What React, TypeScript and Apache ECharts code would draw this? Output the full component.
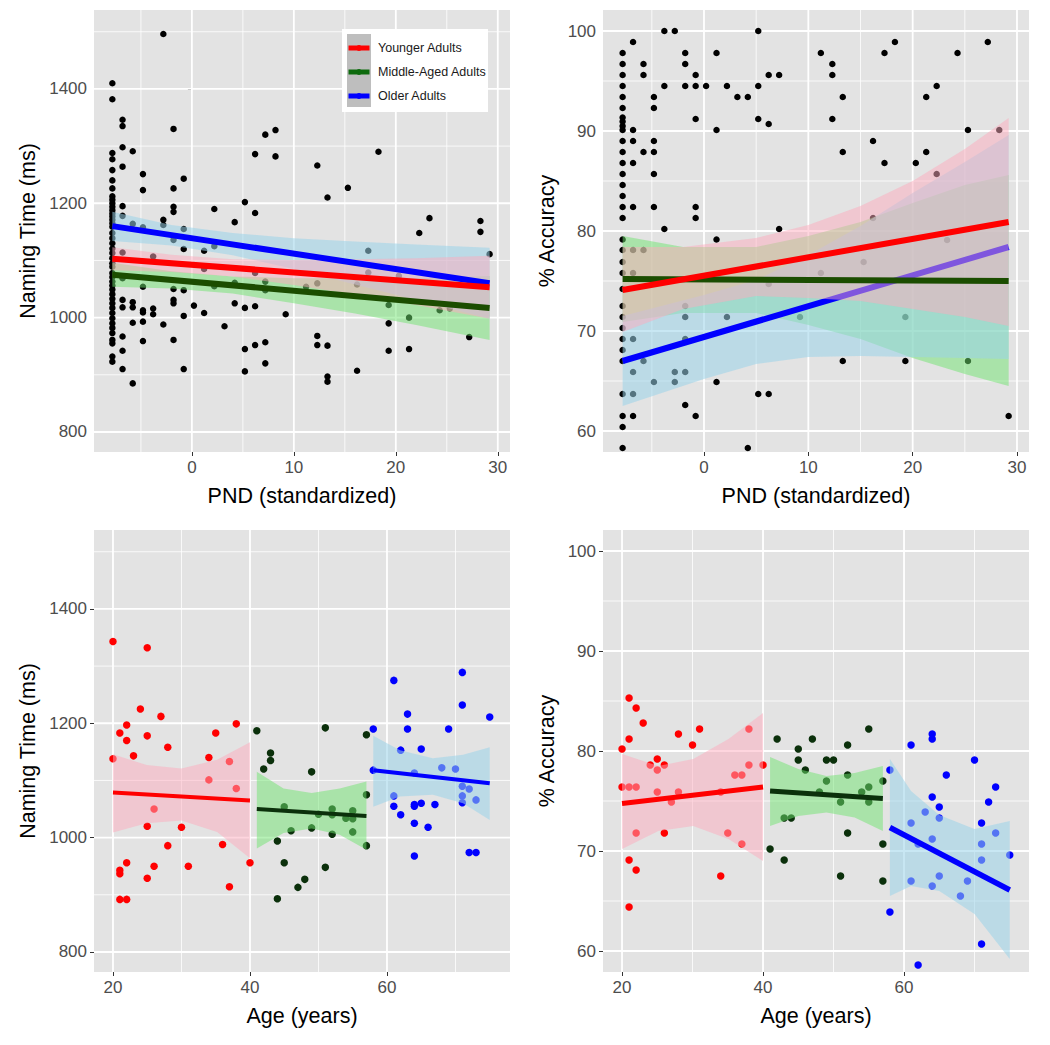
import React, { useEffect, useRef } from "react";
import * as echarts from "echarts";

const FONT = "'Liberation Sans', Arial, Helvetica, sans-serif";

// ---- tick values ----
const pndTicks = [0, 10, 20, 30];
const pndMinor = [-5, 5, 15, 25];
const ageTicks = [20, 40, 60];
const ageMinor = [30, 50, 70];
const namingTicks = [800, 1000, 1200, 1400];
const namingMinor = [900, 1100, 1300, 1500];
const accTicks = [60, 70, 80, 90, 100];
const accMinor = [65, 75, 85, 95];

const groupNames = ["Younger Adults", "Middle-Aged Adults", "Older Adults"];

// ---- top-left: naming time by PND (each entry: PND value, naming times) ----
const namingByPnd: [number, number[]][] = [
  [-7.8, [1410, 1382, 1288, 1277, 1258, 1240, 1226, 1212, 1206, 1200, 1194, 1188, 1182, 1177, 1171, 1165, 1159, 1148, 1139, 1130, 1121, 1113, 1104, 1095, 1089, 1078, 1071, 1063, 1056, 1049, 1041, 1033, 1025, 1017, 1008, 999, 990, 982, 973, 961, 955, 932, 923]],
  [-6.8, [1346, 1335, 1298, 1264, 1195, 1178, 1114, 1069, 1031, 1018, 967, 942, 910]],
  [-5.8, [1291, 1164, 1027, 1018, 991, 885]],
  [-4.8, [1251, 1223, 1158, 1054, 1013, 1009, 993, 959]],
  [-3.8, [1107, 1016, 1006]],
  [-2.8, [1496, 1171, 1162, 988]],
  [-1.8, [1330, 1226, 1194, 1185, 1136, 1050, 1031, 1025, 961]],
  [-0.8, [1243, 1155, 1120, 1048, 1003, 910]],
  [0.2, [1021]],
  [1.2, [1117, 1085, 1008]],
  [2.2, [1190, 1125, 1055]],
  [3.2, [985]],
  [4.2, [1167, 1061, 1025]],
  [5.2, [1202, 1017, 945, 906]],
  [6.2, [1286, 1183, 1078, 1020, 952]],
  [7.2, [1320, 1063, 1048, 957, 920]],
  [8.2, [1328, 1282]],
  [9.2, [1006]],
  [11.2, [1054]],
  [12.3, [1266, 1060, 968, 952]],
  [13.3, [1210, 951, 897, 888]],
  [15.3, [1227]],
  [16.2, [1058, 907]],
  [17.3, [1117, 1079]],
  [18.3, [1290]],
  [19.3, [1022, 990, 942]],
  [20.3, [1073]],
  [21.3, [1000, 945]],
  [22.3, [1148]],
  [23.3, [1174]],
  [24.3, [1013]],
  [25.3, [1016]],
  [27.2, [966]],
  [28.3, [1169, 1150]],
  [29.2, [1111]],
];

// ---- top-right: accuracy by PND ----
const accuracyByPnd: [number, number[]][] = [
  [-7.8, [97.8, 96.7, 95.6, 94.5, 93.4, 92.3, 91.35, 90.95, 90.5, 90.1, 89.0, 87.9, 86.8, 85.7, 84.6, 83.5, 82.4, 81.3, 79.15, 78.1, 76.9, 75.8, 74.2, 72.5, 71.4, 70.3, 69.2, 68.1, 67.0, 63.7, 61.5, 60.4, 58.3]],
  [-6.8, [98.9, 90.1, 89.0, 86.8, 82.4, 78.1, 75.8, 69.2, 65.9, 63.7, 61.5]],
  [-5.8, [96.7, 95.6, 87.9, 78.1, 67.0]],
  [-4.8, [93.4, 92.3, 89.0, 87.9, 85.7, 82.4, 64.9]],
  [-3.8, [100, 94.5, 80.2]],
  [-2.8, [100, 65.9, 64.9]],
  [-1.8, [97.8, 96.7, 94.5, 72.5, 71.4, 69.2, 65.9, 62.6]],
  [-0.8, [95.6, 94.5, 91.2, 82.4, 81.3, 61.5]],
  [0.2, [94.5]],
  [1.2, [97.8, 90.1, 79.15, 64.9]],
  [2.2, [94.5, 71.4]],
  [3.2, [93.4]],
  [4.2, [93.4, 58.3]],
  [5.2, [100, 94.5, 91.2, 63.7]],
  [6.2, [95.6, 90.7, 74.7, 63.7]],
  [7.2, [95.6, 80.2]],
  [9.2, [71.4]],
  [11.2, [97.8, 75.8]],
  [12.3, [96.7, 95.6, 91.2]],
  [13.3, [93.4, 87.9, 67.0]],
  [15.3, [76.9]],
  [16.2, [89.0, 81.3]],
  [17.3, [97.8, 86.8]],
  [18.3, [98.9]],
  [19.3, [71.4, 67.0]],
  [20.3, [86.8]],
  [21.3, [93.4, 87.9]],
  [22.3, [94.5, 85.7]],
  [23.3, [79.1]],
  [24.3, [97.8]],
  [25.3, [90.1, 67.0]],
  [27.2, [98.9]],
  [28.3, [90.1]],
  [29.2, [61.5]],
];

// ---- bottom-left: naming time by age ----
const youngNaming: [number, number][] = [
  [20, 1343], [25, 1332], [24, 1225], [27, 1212], [22, 1197], [21, 1183], [25, 1178], [22, 1170], [28, 1158], [20, 1138], [23, 1143],
  [35, 1183], [38, 1199], [34, 1140], [37, 1133], [34, 1101], [38, 1086], [26, 1050], [25, 1020], [30, 1018], [28, 986], [36, 988],
  [22, 956], [21, 943], [21, 937], [26, 950], [31, 950], [25, 929], [40, 956], [37, 914], [21, 892], [22, 892],
];
const middleNaming: [number, number][] = [
  [41, 1187], [51, 1192], [57, 1180], [43, 1148], [43, 1135], [42, 1120], [49, 1115], [57, 1075], [45, 1054], [52, 1050], [50, 1041],
  [54, 1034], [55, 1047], [55, 1033], [52, 1040], [46, 1012], [49, 1017], [52, 1006], [55, 1010], [44, 994], [57, 986], [45, 956],
  [51, 948], [47, 913], [48, 927], [44, 893],
];
const olderNaming: [number, number][] = [
  [61, 1275], [71, 1289], [71, 1232], [75, 1211], [58, 1190], [63, 1216], [63, 1190], [69, 1190], [62, 1153], [65, 1155], [68, 1122],
  [70, 1120], [64, 1113], [58, 1118], [71, 1090], [72, 1085], [71, 1073], [71, 1061], [73, 1066], [61, 1073], [61, 1055], [62, 1040],
  [64, 1058], [64, 1055], [65, 1060], [67, 1058], [64, 1025], [66, 1018], [64, 968], [72, 974], [73, 974],
];

// ---- bottom-right: accuracy by age ----
const youngAcc: [number, number][] = [
  [20, 80.2], [21, 85.3], [22, 84.3], [23, 82.8], [21, 81.2], [28, 81.7], [31, 82.2], [30, 80.6], [38, 82.2], [24, 78.6], [26, 78.6],
  [25, 79.2], [25, 78.1], [38, 78.6], [40, 78.6], [36, 77.6], [37, 77.6], [20, 76.4], [21, 76.4], [22, 76.4], [25, 75.9], [28, 75.9],
  [27, 74.9], [34, 75.9], [22, 71.8], [26, 71.8], [35, 71.8], [37, 70.7], [21, 69.1], [22, 68.1], [34, 67.5], [21, 64.4],
];
const middleAcc: [number, number][] = [
  [42, 81.2], [45, 80.2], [45, 79.1], [47, 81.2], [49, 79.1], [50, 79.1], [52, 80.6], [55, 82.2], [46, 78.1], [52, 77.6], [49, 77.0],
  [57, 77.0], [55, 76.4], [48, 75.9], [54, 75.9], [51, 74.9], [55, 74.9], [43, 73.3], [44, 73.3], [52, 71.8], [41, 70.2], [43, 69.1],
  [51, 67.5], [57, 70.7], [57, 67.0],
];
const olderAcc: [number, number][] = [
  [58, 78.1], [61, 80.6], [64, 81.7], [64, 81.2], [66, 77.6], [70, 79.1], [73, 76.4], [72, 74.9], [64, 75.4], [65, 74.4], [65, 73.3],
  [63, 73.9], [61, 72.8], [71, 72.8], [73, 71.8], [64, 71.2], [62, 70.7], [71, 70.7], [71, 69.1], [75, 69.6], [61, 67.0], [65, 67.5],
  [64, 66.5], [69, 67.0], [68, 65.5], [58, 63.9], [71, 60.7], [62, 58.6],
];

// ---- fitted lines (end points) ----
const tlYoungFit: [number, number][] = [[-7.8, 1103], [29.2, 1053]];
const tlMiddleFit: [number, number][] = [[-7.8, 1075], [29.2, 1017]];
const tlOlderFit: [number, number][] = [[-7.8, 1160], [29.2, 1060]];
const trYoungFit: [number, number][] = [[-7.8, 74.1], [29.2, 80.9]];
const trMiddleFit: [number, number][] = [[-7.8, 75.2], [29.2, 75.0]];
const trOlderFit: [number, number][] = [[-7.8, 67.0], [29.2, 78.4]];
const blYoungFit: [number, number][] = [[20, 1079], [40, 1065]];
const blMiddleFit: [number, number][] = [[41, 1050], [57, 1038]];
const blOlderFit: [number, number][] = [[58, 1118], [75, 1095]];
const brYoungFit: [number, number][] = [[20, 74.75], [40, 76.4]];
const brMiddleFit: [number, number][] = [[41, 76.0], [57, 75.25]];
const brOlderFit: [number, number][] = [[58, 72.35], [75, 66.1]];

// ---- confidence bands (x, lower, upper) ----
const tlBandX = [-7.8, -2, 4, 10, 16, 22, 29.2];
const tlYoungLo = [1083, 1080, 1072, 1057, 1040, 1022, 998];
const tlYoungHi = [1123, 1110, 1102, 1101, 1102, 1104, 1108];
const tlMiddleLo = [1054, 1051, 1042, 1025, 1007, 987, 961];
const tlMiddleHi = [1096, 1081, 1072, 1069, 1069, 1069, 1073];
const tlOlderLo = [1134, 1126, 1109, 1085, 1058, 1031, 998];
const tlOlderHi = [1185, 1162, 1148, 1139, 1133, 1128, 1122];

const trBandX = [-7.8, -2, 5, 10, 15, 20, 25, 29.2];
const trYoungLo = [69.9, 72.2, 73.5, 73.3, 73.0, 72.2, 71.4, 70.5];
const trYoungHi = [78.4, 78.4, 79.3, 80.6, 82.5, 85.0, 88.2, 91.3];
const trMiddleLo = [70.9, 71.8, 71.8, 70.6, 69.2, 67.3, 65.7, 64.5];
const trMiddleHi = [79.5, 78.4, 78.4, 79.5, 80.9, 82.8, 84.6, 85.6];
const trOlderX = [-7.8, 0, 5, 10, 15, 20, 25, 29.2];
const trOlderLo = [62.5, 65.2, 66.7, 67.4, 67.5, 67.4, 67.3, 67.2];
const trOlderHi = [71.5, 73.6, 75.1, 77.6, 80.5, 83.8, 86.9, 89.6];

const blYoungX = [20, 24.9, 30, 35.2, 40];
const blYoungLo = [1009, 1025, 1030, 1010, 964];
const blYoungHi = [1146, 1127, 1121, 1136, 1167];
const blMiddleX = [41, 44.9, 49, 53.1, 57];
const blMiddleLo = [981, 1008, 1016, 1005, 979];
const blMiddleHi = [1115, 1086, 1078, 1086, 1098];
const blOlderX = [58, 61.9, 66.7, 71.1, 75];
const blOlderLo = [1054, 1072, 1075, 1060, 1031];
const blOlderHi = [1178, 1153, 1139, 1145, 1158];

const brYoungX = [20, 25.15, 30.1, 35.1, 40];
const brYoungLo = [70.2, 72.0, 72.5, 71.2, 69.0];
const brYoungHi = [79.7, 78.5, 79.2, 81.2, 83.8];
const brMiddleX = [41, 45, 49, 53, 57];
const brMiddleLo = [72.5, 73.5, 73.85, 73.35, 72.0];
const brMiddleHi = [79.4, 78.2, 77.5, 77.8, 78.5];
const brOlderX = [58, 61, 65, 70, 75];
const brOlderLo = [65.5, 66.5, 66.0, 63.7, 59.2];
const brOlderHi = [79.2, 76.0, 73.6, 72.2, 73.0];

// ---- styling ----
const RED = "#FF0000";
const BLUE = "#0000FF";
const GREEN_LINE = "#1b4d00";
const GREEN_DARK = "#0b300b";
const GREEN_KEY = "#0d6a0d";
const PINK_FILL = "rgba(253,172,190,0.5)";
const GREEN_FILL = "rgba(112,228,112,0.5)";
const BLUE_FILL = "rgba(155,212,233,0.55)";

type Panel = {
  grid: { left: number; top: number; width: number; height: number };
  xMin: number; xMax: number; xTicks: number[]; xMinor: number[]; xName: string;
  yMin: number; yMax: number; yTicks: number[]; yMinor: number[]; yName: string; yGap: number;
};

const panels: Panel[] = [
  { grid: { left: 94, top: 10, width: 416, height: 442 }, xMin: -9.6, xMax: 31.2, xTicks: pndTicks, xMinor: pndMinor, xName: "PND (standardized)",
    yMin: 765, yMax: 1538, yTicks: namingTicks, yMinor: namingMinor, yName: "Naming Time (ms)", yGap: 55 },
  { grid: { left: 603, top: 10, width: 426, height: 442 }, xMin: -9.68, xMax: 31.15, xTicks: pndTicks, xMinor: pndMinor, xName: "PND (standardized)",
    yMin: 57.9, yMax: 102.1, yTicks: accTicks, yMinor: accMinor, yName: "% Accuracy", yGap: 45 },
  { grid: { left: 94, top: 530, width: 416, height: 442 }, xMin: 17.23, xMax: 77.96, xTicks: ageTicks, xMinor: ageMinor, xName: "Age (years)",
    yMin: 765, yMax: 1538, yTicks: namingTicks, yMinor: namingMinor, yName: "Naming Time (ms)", yGap: 55 },
  { grid: { left: 603, top: 530, width: 426, height: 442 }, xMin: 17.3, xMax: 77.73, xTicks: ageTicks, xMinor: ageMinor, xName: "Age (years)",
    yMin: 57.9, yMax: 102.1, yTicks: accTicks, yMinor: accMinor, yName: "% Accuracy", yGap: 45 },
];

function flatten(cols: [number, number[]][]): [number, number][] {
  const out: [number, number][] = [];
  cols.forEach(([x, ys]) => ys.forEach((y) => out.push([x, y])));
  return out;
}

// white panel grid lines, drawn through the axes' scales
function gridLineSeries(i: number, p: Panel) {
  // [orientation (0 vertical / 1 horizontal), value, width]
  const items: number[][] = [
    ...p.xMinor.map((v) => [0, v, 0.8]),
    ...p.yMinor.map((v) => [1, v, 0.8]),
    ...p.xTicks.map((v) => [0, v, 1.8]),
    ...p.yTicks.map((v) => [1, v, 1.8]),
  ];
  return {
    type: "custom", xAxisIndex: i, yAxisIndex: i, data: items, silent: true, z: 1,
    encode: { x: 1, y: 1 },
    renderItem: (params: any, api: any) => {
      const it = items[params.dataIndex];
      const vertical = it[0] === 0;
      const a = vertical ? api.coord([it[1], p.yMin]) : api.coord([p.xMin, it[1]]);
      const b = vertical ? api.coord([it[1], p.yMax]) : api.coord([p.xMax, it[1]]);
      return { type: "line", shape: { x1: a[0], y1: a[1], x2: b[0], y2: b[1] }, style: { stroke: "#FFFFFF", lineWidth: it[2] } };
    },
  };
}

function scatter(i: number, data: [number, number][], color: string, size: number) {
  return { type: "scatter", xAxisIndex: i, yAxisIndex: i, data, symbolSize: size, itemStyle: { color, opacity: 1 }, silent: true, z: 2 };
}

function band(i: number, xs: number[], lo: number[], hi: number[], fill: string, z: number) {
  return {
    type: "custom", xAxisIndex: i, yAxisIndex: i, data: [[xs[0], lo[0]]], silent: true, z,
    renderItem: (_params: any, api: any) => {
      const upper = xs.map((x, k) => api.coord([x, hi[k]]));
      const lower = xs.map((x, k) => api.coord([x, lo[k]])).reverse();
      return { type: "polygon", shape: { points: [...upper, ...lower] }, style: { fill } };
    },
  };
}

function fit(i: number, data: [number, number][], color: string, width: number, z: number) {
  return { type: "line", xAxisIndex: i, yAxisIndex: i, data, symbol: "none", lineStyle: { color, width, cap: "butt" }, silent: true, z };
}

function buildOption() {
  const grids = panels.map((p) => ({ ...p.grid, show: true, backgroundColor: "#E3E3E3", borderWidth: 0, containLabel: false }));
  const labelStyle = { color: "#4D4D4D", fontSize: 17, fontFamily: FONT, margin: 7, formatter: (v: number) => String(v) };
  const xAxes = panels.map((p, i) => ({
    type: "value", gridIndex: i, min: p.xMin, max: p.xMax,
    splitLine: { show: false }, minorSplitLine: { show: false }, axisLine: { show: false },
    axisTick: { show: true, customValues: p.xTicks, length: 4, lineStyle: { color: "#333333", width: 1 } },
    axisLabel: { ...labelStyle, customValues: p.xTicks },
    name: p.xName, nameLocation: "middle", nameGap: 33,
    nameTextStyle: { color: "#000000", fontSize: 21.5, fontFamily: FONT },
  }));
  const yAxes = panels.map((p, i) => ({
    type: "value", gridIndex: i, min: p.yMin, max: p.yMax,
    splitLine: { show: false }, minorSplitLine: { show: false }, axisLine: { show: false },
    axisTick: { show: true, customValues: p.yTicks, length: 4, lineStyle: { color: "#333333", width: 1 } },
    axisLabel: { ...labelStyle, customValues: p.yTicks },
    name: p.yName, nameLocation: "middle", nameGap: p.yGap,
    nameTextStyle: { color: "#000000", fontSize: 21.5, fontFamily: FONT },
  }));

  const series: any[] = [];
  panels.forEach((p, i) => series.push(gridLineSeries(i, p)));

  // top-left
  series.push(scatter(0, flatten(namingByPnd), "#000000", 6.5));
  series.push(band(0, tlBandX, tlMiddleLo, tlMiddleHi, GREEN_FILL, 3));
  series.push(band(0, tlBandX, tlOlderLo, tlOlderHi, BLUE_FILL, 3));
  series.push(band(0, tlBandX, tlYoungLo, tlYoungHi, PINK_FILL, 4));
  series.push(fit(0, tlOlderFit, BLUE, 6, 6));
  series.push(fit(0, tlMiddleFit, GREEN_LINE, 6, 6));
  series.push(fit(0, tlYoungFit, RED, 6, 6));

  // top-right
  series.push(scatter(1, flatten(accuracyByPnd), "#000000", 6.5));
  series.push(band(1, trBandX, trMiddleLo, trMiddleHi, GREEN_FILL, 3));
  series.push(band(1, trOlderX, trOlderLo, trOlderHi, BLUE_FILL, 3));
  series.push(fit(1, trOlderFit, BLUE, 6, 4));
  series.push(band(1, trBandX, trYoungLo, trYoungHi, PINK_FILL, 5));
  series.push(fit(1, trMiddleFit, GREEN_LINE, 6, 6));
  series.push(fit(1, trYoungFit, RED, 6, 6));

  // bottom-left
  series.push(scatter(2, youngNaming, RED, 7.5));
  series.push(scatter(2, middleNaming, GREEN_DARK, 7.5));
  series.push(scatter(2, olderNaming, BLUE, 7.5));
  series.push(band(2, blYoungX, blYoungLo, blYoungHi, PINK_FILL, 3));
  series.push(band(2, blMiddleX, blMiddleLo, blMiddleHi, GREEN_FILL, 3));
  series.push(band(2, blOlderX, blOlderLo, blOlderHi, BLUE_FILL, 3));
  series.push(fit(2, blYoungFit, RED, 4, 4));
  series.push(fit(2, blMiddleFit, GREEN_DARK, 4, 4));
  series.push(fit(2, blOlderFit, BLUE, 4, 4));

  // bottom-right
  series.push(scatter(3, youngAcc, RED, 7.5));
  series.push(scatter(3, middleAcc, GREEN_DARK, 7.5));
  series.push(scatter(3, olderAcc, BLUE, 7.5));
  series.push(band(3, brYoungX, brYoungLo, brYoungHi, PINK_FILL, 3));
  series.push(band(3, brMiddleX, brMiddleLo, brMiddleHi, GREEN_FILL, 3));
  series.push(band(3, brOlderX, brOlderLo, brOlderHi, BLUE_FILL, 3));
  series.push(fit(3, brYoungFit, RED, 5, 4));
  series.push(fit(3, brMiddleFit, GREEN_DARK, 5, 4));
  series.push(fit(3, brOlderFit, BLUE, 5.5, 4));

  // legend (top-left panel)
  const keyColors = [RED, GREEN_KEY, BLUE];
  const keyY = [48, 72, 96];
  const legendChildren: any[] = [
    { type: "rect", z: 100, shape: { x: 342, y: 29, width: 146, height: 83 }, style: { fill: "#FFFFFF" } },
    { type: "rect", z: 101, shape: { x: 347, y: 34, width: 24, height: 73 }, style: { fill: "#BEBEBE" } },
  ];
  groupNames.forEach((name, k) => {
    legendChildren.push({ type: "line", z: 102, shape: { x1: 348.5, y1: keyY[k], x2: 369.5, y2: keyY[k] }, style: { stroke: keyColors[k], lineWidth: 5 } });
    legendChildren.push({ type: "circle", z: 103, shape: { cx: 359, cy: keyY[k], r: 3 }, style: { fill: keyColors[k] } });
    legendChildren.push({ type: "text", z: 103, x: 378, y: keyY[k], style: { text: name, fill: "#1A1A1A", font: `12.5px ${FONT}`, verticalAlign: "middle" } });
  });

  return {
    animation: false,
    backgroundColor: "#FFFFFF",
    grid: grids,
    xAxis: xAxes,
    yAxis: yAxes,
    series,
    graphic: legendChildren,
  };
}

export default function App() {
  const ref = useRef<HTMLDivElement>(null);
  useEffect(() => {
    if (!ref.current) return;
    const chart = echarts.init(ref.current, null, { renderer: "svg" });
    chart.setOption(buildOption() as any);
    return () => chart.dispose();
  }, []);
  return (
    <div
      ref={ref}
      style={{ position: "absolute", left: 0, top: 0, width: 1050, height: 1045, background: "#FFFFFF" }}
    />
  );
}
